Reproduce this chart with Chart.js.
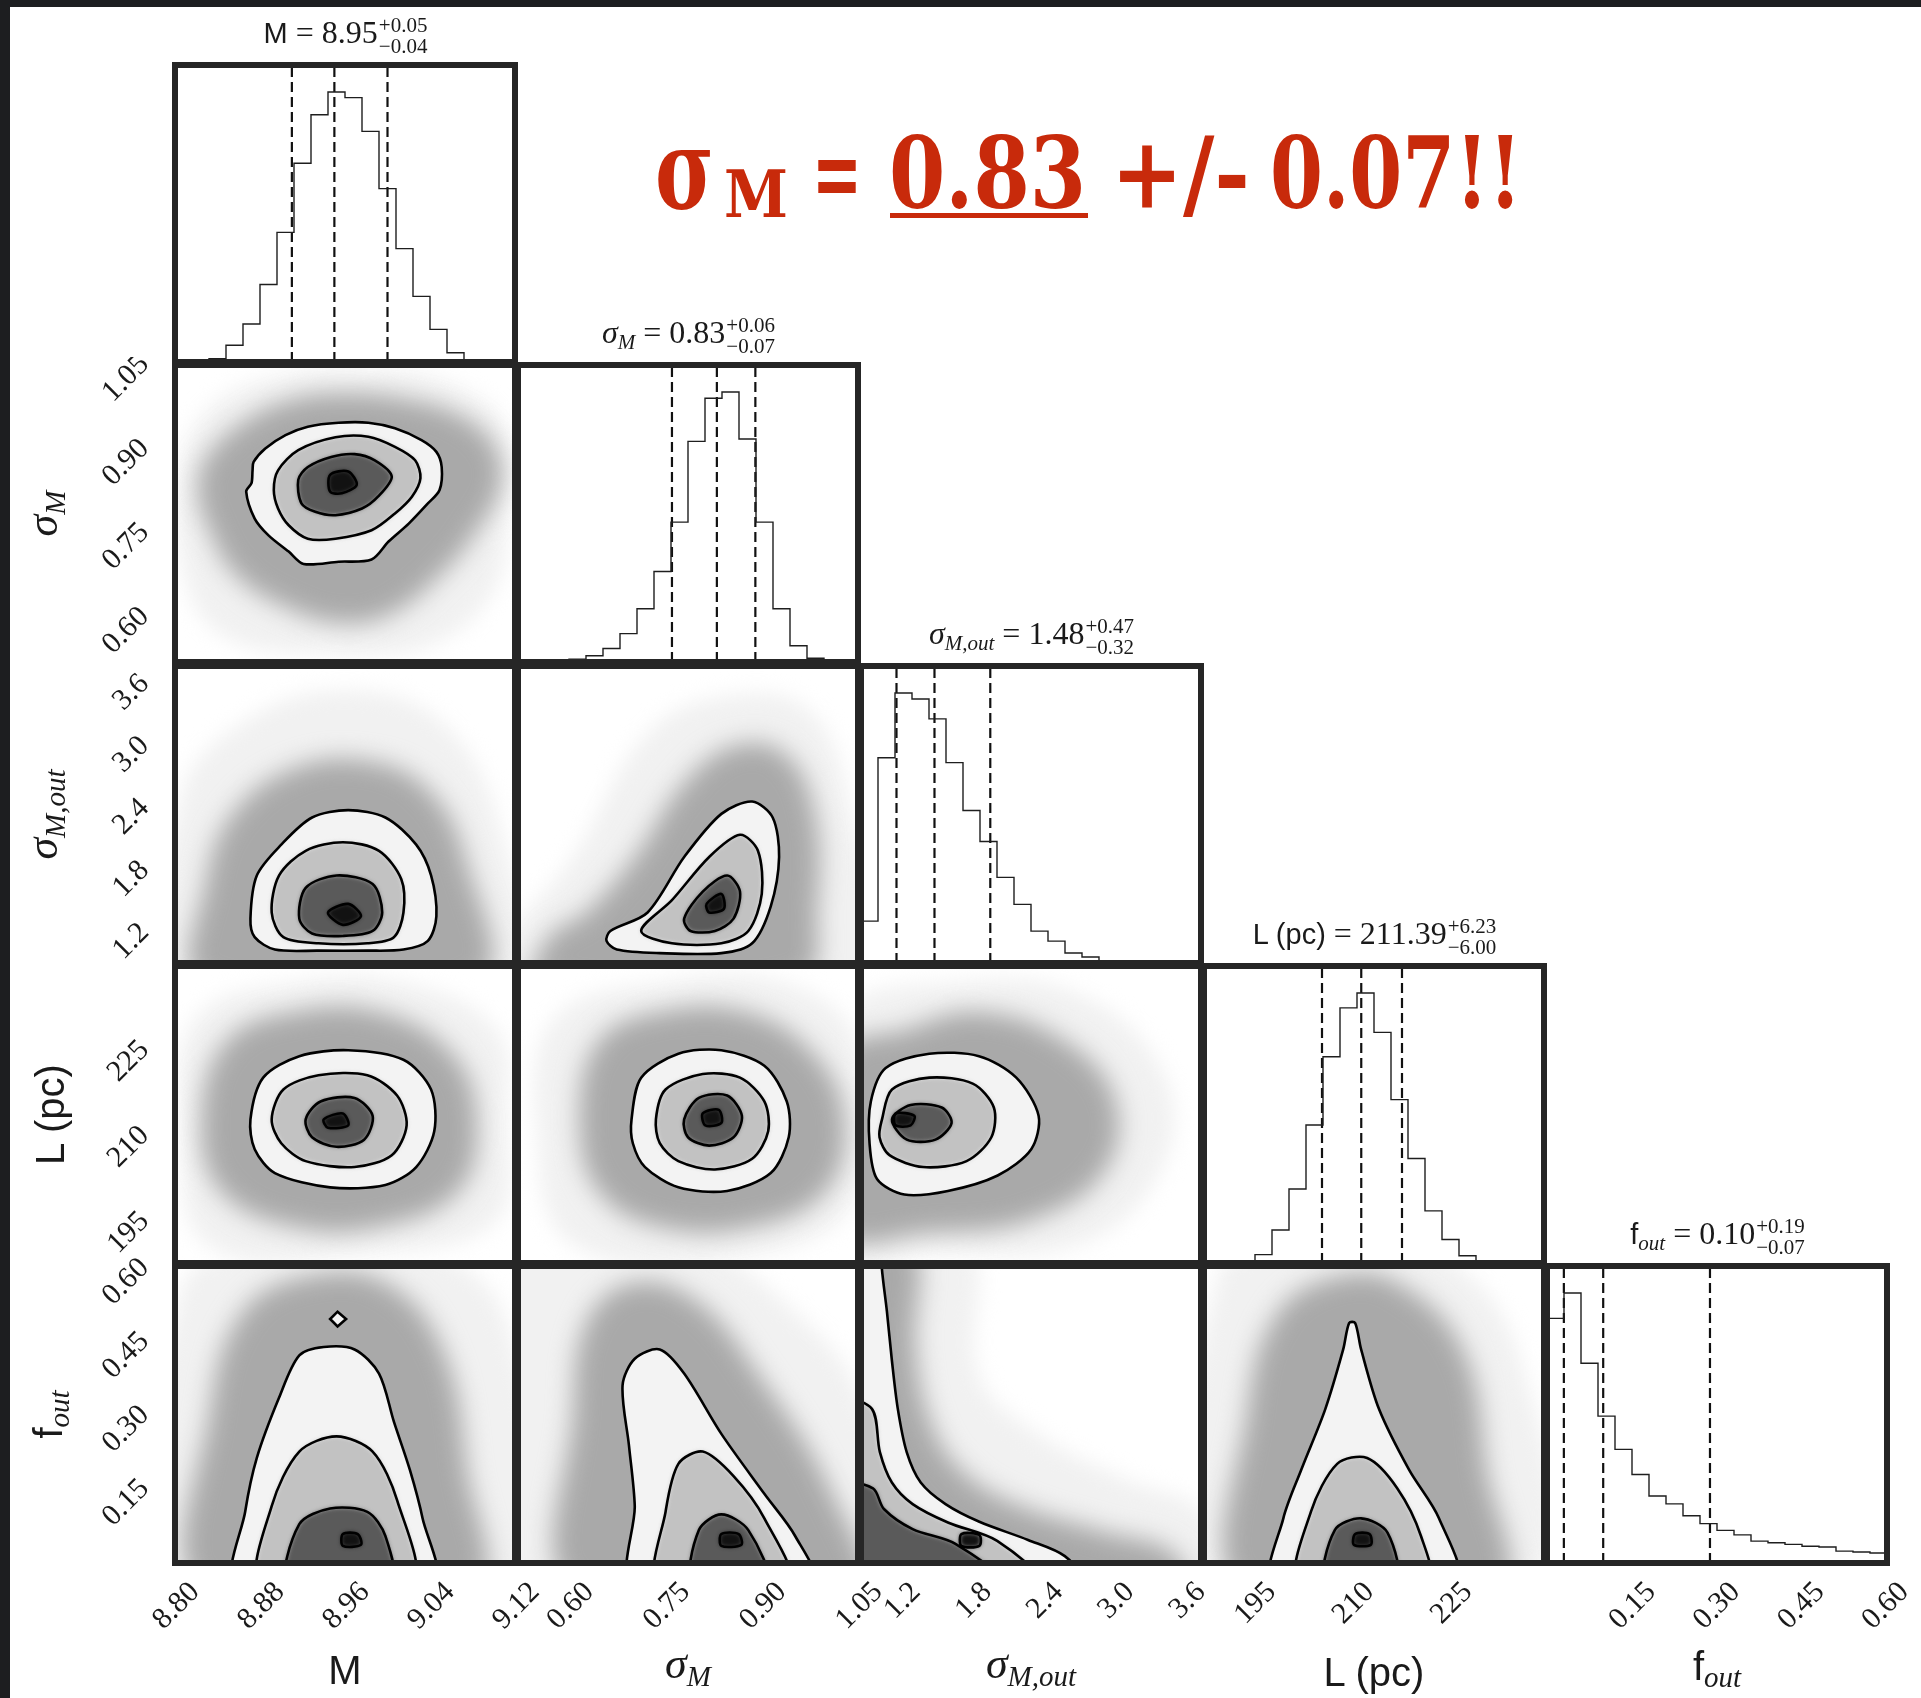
<!DOCTYPE html>
<html>
<head>
<meta charset="utf-8">
<title>Posterior corner plot</title>
<script src="https://cdn.jsdelivr.net/npm/chart.js@4.4.1/dist/chart.umd.min.js"></script>
<style>
  html, body { margin: 0; padding: 0; background: #fff; }
  body { position: relative; width: 1921px; height: 1698px; overflow: hidden; }
  .edge { position: absolute; background: #1d1e20; z-index: 3; }
  canvas { position: absolute; }
  #labels { position: absolute; left: 0; top: 0; z-index: 2; }
  #labels text { white-space: pre; }
</style>
</head>
<body>
<div class="edge" style="left:0;top:0;width:10px;height:1698px"></div>
<div class="edge" style="left:0;top:0;width:1921px;height:7px"></div>
<svg id="labels" width="1921" height="1698" xmlns="http://www.w3.org/2000/svg"></svg>
<script>
// ---------------- parameter axes ----------------
const rangeM      = [8.80, 9.12];
const rangeSigM   = [0.52, 1.05];
const rangeSigOut = [0.861, 3.725];
const rangeL      = [187.35, 239.33];
const rangeF      = [0.0, 0.605];

const ticksM      = [8.80, 8.88, 8.96, 9.04, 9.12];
const ticksSigM   = [0.60, 0.75, 0.90, 1.05];
const ticksSigOut = [1.2, 1.8, 2.4, 3.0, 3.6];
const ticksL      = [195, 210, 225];
const ticksF      = [0.15, 0.30, 0.45, 0.60];

const tickLabelsM      = ['8.80', '8.88', '8.96', '9.04', '9.12'];
const tickLabelsSigM   = ['0.60', '0.75', '0.90', '1.05'];
const tickLabelsSigOut = ['1.2', '1.8', '2.4', '3.0', '3.6'];
const tickLabelsL      = ['195', '210', '225'];
const tickLabelsF      = ['0.15', '0.30', '0.45', '0.60'];

// ---------------- 1D marginals: 20 bins spanning each axis range ----------------
const histM      = [0, 4, 12, 62, 141, 287, 480, 736, 916, 1000, 979, 854, 642, 420, 243, 121, 34, 6, 2, 0];
const histSigM   = [0, 0, 0, 10, 23, 50, 105, 197, 335, 518, 817, 977, 1000, 826, 518, 197, 60, 14, 5, 0];
const histSigOut = [155, 760, 1000, 978, 904, 742, 565, 450, 317, 217, 118, 81, 37, 22, 3, 0, 0, 0, 0, 0];
const histL      = [0, 0, 3, 31, 122, 274, 511, 764, 945, 1000, 854, 605, 387, 193, 87, 27, 4, 0, 0, 0];
const histF      = [906, 1000, 740, 544, 421, 328, 248, 219, 175, 146, 121, 104, 81, 75, 69, 62, 59, 44, 41, 37];

// 16th / 50th / 84th percentiles
const quantM      = [8.91, 8.95, 9.00];
const quantSigM   = [0.76, 0.83, 0.89];
const quantSigOut = [1.16, 1.48, 1.95];
const quantL      = [205.39, 211.39, 217.62];
const quantF      = [0.03, 0.10, 0.29];

// ---------------- 2D marginals: sample-cloud envelopes (sparse, dense) and density contours ----------------
const haloM_SigM = [
  [[8.805,0.862],[8.831,0.970],[8.894,1.029],[8.973,1.041],[9.051,1.023],[9.111,0.940],[9.114,0.791],[9.098,0.642],[9.035,0.547],[8.941,0.535],[8.847,0.565],[8.809,0.672]],
  [[8.828,0.880],[8.863,0.946],[8.910,0.988],[8.963,0.999],[9.020,0.988],[9.070,0.958],[9.101,0.904],[9.106,0.833],[9.082,0.749],[9.051,0.678],[9.004,0.607],[8.957,0.589],[8.904,0.618],[8.856,0.678],[8.831,0.761],[8.822,0.821]]
];
const contM_SigM = [
  [[8.874,0.877],[8.885,0.901],[8.904,0.925],[8.925,0.940],[8.954,0.947],[8.982,0.947],[9.007,0.937],[9.032,0.916],[9.046,0.895],[9.051,0.868],[9.049,0.827],[9.038,0.803],[9.020,0.767],[9.001,0.735],[8.985,0.703],[8.954,0.699],[8.921,0.695],[8.907,0.717],[8.888,0.746],[8.875,0.776],[8.867,0.824],[8.872,0.839],[8.873,0.862]],
  [[8.893,0.827],[8.897,0.862],[8.916,0.898],[8.951,0.921],[8.982,0.922],[9.007,0.904],[9.026,0.880],[9.031,0.848],[9.023,0.815],[9.007,0.785],[8.985,0.755],[8.951,0.740],[8.925,0.740],[8.907,0.764],[8.897,0.794]],
  [[8.916,0.845],[8.925,0.868],[8.947,0.886],[8.969,0.891],[8.988,0.880],[9.004,0.851],[8.991,0.815],[8.976,0.794],[8.951,0.782],[8.932,0.788],[8.919,0.803]],
  [[8.946,0.854],[8.963,0.860],[8.971,0.836],[8.957,0.821],[8.946,0.824]]
];

const haloM_SigOut = [
  [[8.808,0.70],[8.806,2.478],[8.866,3.191],[8.958,3.488],[9.050,3.191],[9.107,2.121],[9.113,0.70]],
  [[8.825,0.70],[8.829,1.645],[8.854,2.299],[8.912,2.739],[8.981,2.811],[9.038,2.537],[9.073,1.883],[9.087,0.70]]
];
const contM_SigOut = [
  [[8.871,1.289],[8.877,1.705],[8.900,2.002],[8.929,2.264],[8.963,2.335],[8.998,2.264],[9.027,2.002],[9.041,1.705],[9.046,1.312],[9.038,1.075],[9.015,0.991],[8.981,0.980],[8.935,0.980],[8.894,0.991],[8.875,1.110]],
  [[8.891,1.348],[8.898,1.705],[8.923,1.943],[8.958,2.026],[8.992,1.943],[9.013,1.669],[9.015,1.348],[9.006,1.110],[8.981,1.051],[8.935,1.051],[8.902,1.110]],
  [[8.917,1.289],[8.923,1.586],[8.952,1.705],[8.986,1.622],[8.995,1.348],[8.986,1.170],[8.958,1.122],[8.929,1.146]],
  [[8.944,1.348],[8.963,1.431],[8.975,1.312],[8.958,1.229]]
];

const haloSigM_SigOut = [
  [[0.50,1.051],[0.606,1.883],[0.722,3.072],[0.837,3.429],[0.971,3.310],[1.038,2.359],[1.06,0.70],[0.50,0.70]],
  [[0.568,1.110],[0.626,1.348],[0.702,1.883],[0.779,2.597],[0.856,2.953],[0.933,2.894],[0.981,2.359],[0.987,1.408],[0.962,0.70],[0.55,0.70]]
];
const contSigM_SigOut = [
  [[0.658,1.075],[0.664,1.170],[0.722,1.348],[0.779,1.883],[0.837,2.299],[0.885,2.418],[0.917,2.264],[0.927,1.883],[0.914,1.408],[0.885,1.051],[0.837,0.956],[0.741,0.956],[0.674,0.991]],
  [[0.712,1.170],[0.760,1.467],[0.818,1.883],[0.866,2.097],[0.894,1.943],[0.900,1.527],[0.879,1.170],[0.837,1.051],[0.760,1.051]],
  [[0.779,1.289],[0.808,1.550],[0.846,1.705],[0.866,1.550],[0.856,1.289],[0.827,1.170],[0.789,1.170]],
  [[0.814,1.431],[0.837,1.527],[0.841,1.384],[0.818,1.348]]
];

const haloM_L = [
  [[8.806,212.49],[8.820,230.23],[8.912,236.49],[9.015,236.49],[9.102,228.14],[9.113,212.49],[9.102,194.74],[8.981,188.9],[8.831,190.6]],
  [[8.825,212.49],[8.848,226.06],[8.912,231.28],[8.992,231.28],[9.061,223.97],[9.084,212.49],[9.067,199.96],[8.992,193.70],[8.912,193.70],[8.843,199.96]]
];
const contM_L = [
  [[8.871,212.49],[8.883,219.79],[8.917,223.55],[8.963,224.59],[9.015,222.93],[9.041,217.71],[9.044,210.40],[9.027,204.14],[8.998,201.00],[8.946,200.59],[8.894,203.09],[8.875,207.27]],
  [[8.891,212.49],[8.902,217.71],[8.935,220.21],[8.981,220.21],[9.009,216.66],[9.018,211.44],[9.004,206.22],[8.969,204.14],[8.923,205.18],[8.900,208.31]],
  [[8.923,212.49],[8.937,215.62],[8.969,216.24],[8.986,213.11],[8.978,208.94],[8.952,207.69],[8.929,209.36]],
  [[8.940,212.49],[8.958,213.53],[8.963,211.44],[8.944,211.03]]
];

const haloSigM_L = [
  [[0.549,212.49],[0.578,230.23],[0.741,236.49],[0.933,236.49],[1.048,226.06],[1.048,198.9],[0.894,188.9],[0.606,190.6]],
  [[0.616,212.49],[0.645,226.06],[0.741,231.28],[0.875,231.28],[0.981,223.97],[1.029,212.49],[1.000,199.96],[0.885,193.70],[0.741,193.70],[0.645,199.96]]
];
const contSigM_L = [
  [[0.697,212.49],[0.712,219.79],[0.770,223.97],[0.837,224.59],[0.904,221.88],[0.939,215.62],[0.942,209.36],[0.914,203.09],[0.846,199.96],[0.770,200.59],[0.718,204.14],[0.699,208.31]],
  [[0.735,212.49],[0.750,217.71],[0.808,220.42],[0.866,219.79],[0.904,215.62],[0.910,210.40],[0.885,205.60],[0.827,203.72],[0.770,205.18],[0.741,208.31]],
  [[0.779,212.49],[0.802,216.24],[0.846,216.66],[0.869,213.11],[0.856,209.36],[0.818,207.90],[0.785,209.36]],
  [[0.808,213.53],[0.833,214.16],[0.837,211.86],[0.812,211.44]]
];

const haloSigOut_L = [
  [[0.70,188.9],[0.70,230.2],[1.645,236.5],[2.693,234.4],[3.426,219.8],[3.373,203.1],[2.693,190.6],[1.436,188.9]],
  [[0.70,192.65],[0.70,224.0],[1.226,228.14],[1.855,231.28],[2.588,226.06],[3.007,215.62],[2.902,203.09],[2.274,194.74],[1.436,192.65]]
];
const contSigOut_L = [
  [[0.944,215.62],[1.069,221.46],[1.436,223.97],[1.855,223.55],[2.169,219.79],[2.357,213.11],[2.295,207.27],[2.012,202.67],[1.593,199.96],[1.226,199.33],[0.996,202.05],[0.933,208.31]],
  [[1.038,212.49],[1.122,217.71],[1.436,219.79],[1.802,218.75],[1.980,214.57],[1.959,209.36],[1.750,205.18],[1.384,204.14],[1.101,206.22],[1.017,209.36]],
  [[1.122,212.49],[1.279,214.99],[1.541,214.57],[1.624,211.86],[1.488,208.94],[1.247,208.94]],
  [[1.153,213.53],[1.310,213.11],[1.279,211.44],[1.153,211.44]]
];

const haloM_F = [
  [[8.806,-0.05],[8.806,0.558],[8.889,0.65],[9.027,0.65],[9.113,0.485],[9.117,-0.05]],
  [[8.825,-0.05],[8.833,0.313],[8.863,0.509],[8.923,0.583],[8.998,0.571],[9.052,0.435],[9.075,0.190],[9.082,-0.05]]
];
const contM_F = [
  [[8.858,-0.04],[8.866,0.104],[8.877,0.214],[8.898,0.337],[8.917,0.423],[8.940,0.440],[8.969,0.435],[8.992,0.386],[9.006,0.288],[9.021,0.190],[9.033,0.091],[9.043,-0.04]],
  [[8.881,-0.04],[8.891,0.116],[8.917,0.227],[8.952,0.258],[8.986,0.227],[9.009,0.128],[9.023,-0.04]],
  [[8.907,-0.04],[8.917,0.079],[8.946,0.111],[8.981,0.104],[8.998,0.055],[9.003,-0.04]],
  [[8.958,0.059],[8.972,0.059],[8.975,0.037],[8.958,0.035]]
];
const islandM_F = [[8.946,0.497],[8.953,0.512],[8.961,0.497],[8.953,0.482]];

const haloSigM_F = [
  [[0.50,-0.05],[0.50,0.65],[0.779,0.65],[0.933,0.534],[1.06,0.313],[1.06,-0.05]],
  [[0.606,-0.05],[0.606,0.313],[0.629,0.497],[0.702,0.571],[0.798,0.534],[0.894,0.386],[1.010,0.141],[1.048,-0.05]]
];
const contSigM_F = [
  [[0.699,-0.04],[0.702,0.116],[0.693,0.239],[0.683,0.362],[0.702,0.416],[0.741,0.435],[0.779,0.386],[0.837,0.263],[0.904,0.141],[0.952,0.055],[0.980,-0.04]],
  [[0.739,-0.04],[0.750,0.104],[0.770,0.202],[0.808,0.227],[0.856,0.177],[0.904,0.091],[0.942,-0.04]],
  [[0.793,-0.04],[0.802,0.067],[0.837,0.099],[0.879,0.067],[0.908,-0.04]],
  [[0.837,0.059],[0.864,0.059],[0.868,0.037],[0.837,0.035]]
];

const haloSigOut_F = [
  [[0.70,-0.05],[0.70,0.65],[1.757,0.65],[1.858,0.38],[2.37,0.26],[3.09,0.17],[3.75,0.10],[3.80,-0.05]],
  [[0.70,-0.05],[0.70,0.65],[1.296,0.65],[1.322,0.438],[1.447,0.289],[1.707,0.189],[2.168,0.120],[2.888,0.065],[3.50,0.02],[3.55,-0.05]]
];
const contSigOut_F = [
  [[0.70,-0.04],[0.70,0.65],[1.030,0.65],[1.037,0.599],[1.079,0.513],[1.121,0.413],[1.171,0.314],[1.246,0.226],[1.364,0.164],[1.573,0.120],[1.858,0.084],[2.268,0.047],[2.578,0.014],[2.73,-0.04]],
  [[0.70,-0.04],[0.70,0.33],[0.953,0.314],[1.020,0.226],[1.121,0.164],[1.296,0.120],[1.598,0.082],[2.008,0.045],[2.37,-0.04]],
  [[0.70,-0.04],[0.70,0.16],[0.962,0.152],[1.054,0.110],[1.296,0.069],[1.656,0.039],[2.05,-0.04]],
  [[1.707,0.059],[1.858,0.057],[1.858,0.035],[1.707,0.035]]
];

const haloL_F = [
  [[189.4,-0.05],[189.4,0.583],[202.2,0.65],[220.5,0.65],[235.2,0.435],[237.0,-0.05]],
  [[193.07,-0.05],[194.0,0.313],[198.56,0.509],[207.71,0.583],[216.86,0.571],[226.93,0.435],[230.59,0.190],[232.42,-0.05]]
];
const contL_F = [
  [[198.0,-0.04],[199.48,0.091],[202.22,0.190],[205.88,0.313],[208.63,0.435],[209.54,0.489],[210.46,0.489],[211.37,0.435],[214.12,0.313],[218.69,0.190],[223.27,0.091],[225.9,-0.04]],
  [[201.9,-0.04],[203.69,0.104],[207.71,0.202],[212.29,0.214],[216.86,0.153],[220.52,0.055],[221.6,-0.04]],
  [[206.0,-0.04],[207.35,0.067],[211.37,0.091],[215.40,0.062],[216.7,-0.04]],
  [[210.46,0.059],[212.65,0.059],[212.84,0.037],[210.28,0.037]]
];

// ---------------- layout of the panel grid ----------------
const COL_L = [175, 518, 861, 1204, 1547];
const ROW_T = [65, 365, 666, 966, 1266];
const PW = 340, PH = 297;

const VARS = [
  { range: rangeM,      ticks: ticksM,      labels: tickLabelsM,      hist: histM,      quant: quantM },
  { range: rangeSigM,   ticks: ticksSigM,   labels: tickLabelsSigM,   hist: histSigM,   quant: quantSigM },
  { range: rangeSigOut, ticks: ticksSigOut, labels: tickLabelsSigOut, hist: histSigOut, quant: quantSigOut },
  { range: rangeL,      ticks: ticksL,      labels: tickLabelsL,      hist: histL,      quant: quantL },
  { range: rangeF,      ticks: ticksF,      labels: tickLabelsF,      hist: histF,      quant: quantF }
];

const HALO_SHADES = ['#f1f1f1', '#a9a9a9'];
const HALO_BLUR = [10, 12];
const LEVEL_SHADES = ['#f3f3f3', '#c2c2c2', '#5a5a5a', '#121212'];

// ---------------- shared plugin: shaded regions, frames and rotated tick labels ----------------
const tickInfo = new WeakMap();

function drawRotated(ctx, s, cx, cy, gh) {
  ctx.save();
  ctx.translate(cx, cy);
  ctx.rotate(-Math.PI / 4);
  ctx.fillText(s, 0, gh / 2);
  ctx.restore();
}

const cornerPlugin = {
  id: 'corner',
  afterDatasetUpdate(chart, args) {
    const ds = chart.data.datasets[args.index];
    const line = args.meta.dataset;
    if (ds.closed && line) { line._loop = true; line._fullLoop = true; }
  },
  beforeDatasetsDraw(chart) {
    const ctx = chart.ctx, a = chart.chartArea;
    chart.data.datasets.forEach((ds, i) => {
      const line = chart.getDatasetMeta(i).dataset;
      if (!line) return;
      line.updateControlPoints(a, 'x');
      if (!ds.shade) return;
      ctx.save();
      ctx.beginPath();
      ctx.rect(a.left, a.top, a.right - a.left, a.bottom - a.top);
      ctx.clip();
      ctx.filter = ds.blur ? 'blur(' + ds.blur + 'px)' : 'none';
      ctx.fillStyle = ds.shade;
      ctx.beginPath();
      line.path(ctx);
      ctx.closePath();
      ctx.fill();
      ctx.restore();
    });
  },
  afterDraw(chart) {
    const ctx = chart.ctx, a = chart.chartArea;
    ctx.save();
    ctx.strokeStyle = '#262626';
    ctx.lineWidth = 6;
    ctx.strokeRect(a.left, a.top, a.right - a.left, a.bottom - a.top);
    const info = tickInfo.get(chart.canvas) || {};
    ctx.font = '30px "Liberation Serif", "DejaVu Serif", serif';
    ctx.fillStyle = '#1a1a1a';
    ctx.textAlign = 'center';
    ctx.textBaseline = 'alphabetic';
    const gh = 20;
    if (info.x) {
      info.x.ticks.forEach((v, k) => {
        const lab = info.x.labels[k];
        const px = chart.scales.x.getPixelForValue(v);
        const d = (ctx.measureText(lab).width + gh) / Math.SQRT2;
        drawRotated(ctx, lab, px, a.bottom + 16 + d / 2, gh);
      });
    }
    if (info.y) {
      info.y.ticks.forEach((v, k) => {
        const lab = info.y.labels[k];
        const py = chart.scales.y.getPixelForValue(v);
        const d = (ctx.measureText(lab).width + gh) / Math.SQRT2;
        drawRotated(ctx, lab, a.left - 25 - d / 2, py + 12, gh);
      });
    }
    ctx.restore();
  }
};

function buildPanel(r, c, datasets, xr, yr, info) {
  const pad = { left: c === 0 ? 175 : 8, right: r === 4 ? 45 : 8, top: 8, bottom: r === 4 ? 95 : 8 };
  const w = PW + pad.left + pad.right, h = PH + pad.top + pad.bottom;
  const cv = document.createElement('canvas');
  cv.width = w; cv.height = h;
  cv.style.left = (COL_L[c] - pad.left) + 'px';
  cv.style.top = (ROW_T[r] - pad.top) + 'px';
  cv.style.width = w + 'px';
  cv.style.height = h + 'px';
  document.body.appendChild(cv);
  tickInfo.set(cv, info);
  return new Chart(cv, {
    type: 'line',
    data: { datasets },
    options: {
      responsive: false,
      animation: false,
      devicePixelRatio: 1,
      events: [],
      layout: { padding: pad },
      plugins: { legend: { display: false }, tooltip: { enabled: false } },
      elements: { point: { radius: 0 } },
      scales: {
        x: { type: 'linear', min: xr[0], max: xr[1], display: false },
        y: { type: 'linear', min: yr[0], max: yr[1], display: false }
      }
    },
    plugins: [cornerPlugin]
  });
}

// closed outlines start half-way round, so their x values are never monotonic
// (keeps the line controller from trimming them to the visible x window)
function loopPts(arr) {
  const h = Math.floor(arr.length / 2);
  return arr.slice(h).concat(arr.slice(0, h)).map(p => ({ x: p[0], y: p[1] }));
}

function histPoints(counts, range) {
  const n = counts.length, w = (range[1] - range[0]) / n;
  const out = [{ x: range[0], y: 0 }];
  counts.forEach((c, i) => out.push({ x: range[0] + i * w, y: c }));
  out.push({ x: range[1], y: counts[n - 1] });
  out.push({ x: range[1], y: 0 });
  return out;
}

function tickSet(v) { return { ticks: v.ticks, labels: v.labels }; }

// ---------------- diagonal: 1D histograms ----------------
VARS.forEach((v, i) => {
  const top = 1.1 * Math.max(...v.hist);
  const ds = [{
    data: histPoints(v.hist, v.range), stepped: true,
    borderColor: '#1e1e1e', borderWidth: 1.4, pointRadius: 0
  }];
  v.quant.forEach(q => ds.push({
    data: [{ x: q, y: 0 }, { x: q, y: top }],
    borderColor: '#111', borderWidth: 2.2, borderDash: [10, 5], pointRadius: 0
  }));
  buildPanel(i, i, ds, v.range, [0, top], { x: i === 4 ? tickSet(v) : null, y: null });
});

// ---------------- lower triangle: 2D marginals ----------------
const PANELS = [
  { r: 1, c: 0, halo: haloM_SigM,      cont: contM_SigM },
  { r: 2, c: 0, halo: haloM_SigOut,    cont: contM_SigOut },
  { r: 2, c: 1, halo: haloSigM_SigOut, cont: contSigM_SigOut },
  { r: 3, c: 0, halo: haloM_L,         cont: contM_L },
  { r: 3, c: 1, halo: haloSigM_L,      cont: contSigM_L },
  { r: 3, c: 2, halo: haloSigOut_L,    cont: contSigOut_L },
  { r: 4, c: 0, halo: haloM_F,         cont: contM_F, islands: [islandM_F] },
  { r: 4, c: 1, halo: haloSigM_F,      cont: contSigM_F },
  { r: 4, c: 2, halo: haloSigOut_F,    cont: contSigOut_F },
  { r: 4, c: 3, halo: haloL_F,         cont: contL_F }
];

PANELS.forEach(p => {
  const ds = [];
  p.halo.forEach((h, k) => ds.push({
    data: loopPts(h), closed: true, shade: HALO_SHADES[k], blur: HALO_BLUR[k],
    borderColor: 'rgba(0,0,0,0)', borderWidth: 1, tension: 0.4, capBezierPoints: false, pointRadius: 0
  }));
  p.cont.forEach((cn, k) => ds.push({
    data: loopPts(cn), closed: true, shade: LEVEL_SHADES[k], blur: k > 0 ? 2 : 0,
    borderColor: '#000', borderWidth: 2.6, tension: 0.3, capBezierPoints: false, pointRadius: 0
  }));
  (p.islands || []).forEach(cn => ds.push({
    data: loopPts(cn), closed: true, shade: LEVEL_SHADES[0],
    borderColor: '#000', borderWidth: 2.6, tension: 0, pointRadius: 0
  }));
  const xv = VARS[p.c], yv = VARS[p.r];
  buildPanel(p.r, p.c, ds, xv.range, yv.range, {
    x: p.r === 4 ? tickSet(xv) : null,
    y: p.c === 0 ? tickSet(yv) : null
  });
});

// ---------------- text: titles, axis names, headline ----------------
const svg = document.getElementById('labels');
const NS = 'http://www.w3.org/2000/svg';
const SERIF = "'Liberation Serif', 'DejaVu Serif', serif";
const SANS = "'Liberation Sans', 'DejaVu Sans', sans-serif";

function mk(tag, attrs, parent) {
  const e = document.createElementNS(NS, tag);
  for (const k in attrs) e.setAttribute(k, attrs[k]);
  (parent || svg).appendChild(e);
  return e;
}

function runText(runs, x, y, parent, fill) {
  const t = mk('text', { x: x, y: y, fill: fill || '#1a1a1a' }, parent);
  let cur = 0;
  runs.forEach(r => {
    const s = mk('tspan', {
      'font-family': r.f === 'sans' ? SANS : SERIF,
      'font-size': r.s,
      'font-style': r.it ? 'italic' : 'normal',
      dy: (r.dy || 0) - cur
    }, t);
    s.textContent = r.t;
    cur = r.dy || 0;
  });
  return t;
}

function histTitle(i, nameRuns, val, up, dn) {
  const cx = COL_L[i] + PW / 2, y = ROW_T[i] - 22;
  const main = runText(nameRuns.concat([{ t: ' = ' + val, f: 'serif', s: 32 }]), 0, y);
  const sup = runText([{ t: '+' + up, f: 'serif', s: 21 }], 0, y - 11);
  const sub = runText([{ t: '\u2212' + dn, f: 'serif', s: 21 }], 0, y + 10);
  const wm = main.getComputedTextLength();
  const ws = Math.max(sup.getComputedTextLength(), sub.getComputedTextLength());
  const x0 = cx - (wm + ws) / 2;
  main.setAttribute('x', x0);
  sup.setAttribute('x', x0 + wm + 1);
  sub.setAttribute('x', x0 + wm + 1);
}

const nameM      = [{ t: 'M', f: 'sans', s: 29 }];
const nameSigM   = [{ t: '\u03C3', f: 'serif', it: true, s: 32 }, { t: 'M', f: 'serif', it: true, s: 21, dy: 6 }];
const nameSigOut = [{ t: '\u03C3', f: 'serif', it: true, s: 32 }, { t: 'M,out', f: 'serif', it: true, s: 21, dy: 6 }];
const nameL      = [{ t: 'L (pc)', f: 'sans', s: 29 }];
const nameF      = [{ t: 'f', f: 'sans', s: 29 }, { t: 'out', f: 'serif', it: true, s: 21, dy: 6 }];

histTitle(0, nameM, '8.95', '0.05', '0.04');
histTitle(1, nameSigM, '0.83', '0.06', '0.07');
histTitle(2, nameSigOut, '1.48', '0.47', '0.32');
histTitle(3, nameL, '211.39', '6.23', '6.00');
histTitle(4, nameF, '0.10', '0.19', '0.07');

const axisM      = [{ t: 'M', f: 'sans', s: 40 }];
const axisSigM   = [{ t: '\u03C3', f: 'serif', it: true, s: 44 }, { t: 'M', f: 'serif', it: true, s: 29, dy: 8 }];
const axisSigOut = [{ t: '\u03C3', f: 'serif', it: true, s: 44 }, { t: 'M,out', f: 'serif', it: true, s: 29, dy: 8 }];
const axisL      = [{ t: 'L (pc)', f: 'sans', s: 40 }];
const axisF      = [{ t: 'f', f: 'sans', s: 40 }, { t: 'out', f: 'serif', it: true, s: 29, dy: 7 }];

function bottomLabel(c, runs, base) {
  const t = runText(runs, 0, base);
  t.setAttribute('x', COL_L[c] + PW / 2 - t.getComputedTextLength() / 2);
}
function leftLabel(r, runs, xb) {
  const g = mk('g', { transform: 'translate(' + xb + ',' + (ROW_T[r] + PH / 2) + ') rotate(-90)' });
  const t = runText(runs, 0, 0, g);
  t.setAttribute('x', -t.getComputedTextLength() / 2);
}

bottomLabel(0, axisM, 1684);
bottomLabel(1, axisSigM, 1678);
bottomLabel(2, axisSigOut, 1678);
bottomLabel(3, axisL, 1686);
bottomLabel(4, axisF, 1680);

leftLabel(1, axisSigM, 57);
leftLabel(2, axisSigOut, 57);
leftLabel(3, axisL, 64);
leftLabel(4, axisF, 62);

// headline
const RED = '#c82a0b';
const HEAD_FONT = "'DejaVu Serif Condensed', 'DejaVu Serif', serif";
function headPiece(str, x0, x1, base, size) {
  const t = mk('text', {
    x: x0, y: base, 'font-family': HEAD_FONT, 'font-weight': 'bold', 'font-size': size,
    fill: RED, textLength: x1 - x0, lengthAdjust: 'spacingAndGlyphs'
  });
  t.textContent = str;
}
headPiece('\u03C3', 655, 714, 208, 112);
headPiece('M', 724, 788, 217, 66);
headPiece('=', 812, 862, 208, 100);
headPiece('0.83', 889, 1086, 208, 100);
headPiece('+/-', 1111, 1250, 208, 100);
headPiece('0.07!!', 1270, 1522, 208, 100);
mk('rect', { x: 890, y: 213, width: 198, height: 5, fill: RED });
</script>
</body>
</html>
